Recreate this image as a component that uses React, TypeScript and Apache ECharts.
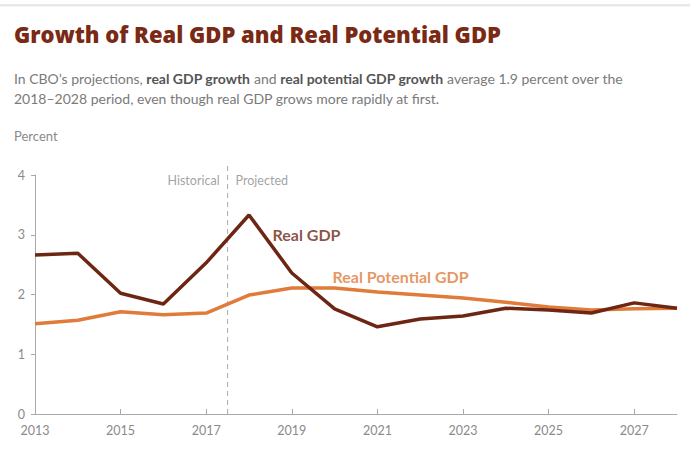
import React, { useEffect, useRef } from "react";
import * as echarts from "echarts";

const years = ["2013","2014","2015","2016","2017","2018","2019","2020","2021","2022","2023","2024","2025","2026","2027","2028"];
const realGdp = [2.66, 2.69, 2.02, 1.84, 2.53, 3.33, 2.36, 1.76, 1.46, 1.59, 1.64, 1.77, 1.74, 1.69, 1.86, 1.77];
const potentialGdp = [1.51, 1.57, 1.71, 1.66, 1.69, 1.99, 2.11, 2.11, 2.04, 1.99, 1.94, 1.87, 1.79, 1.74, 1.76, 1.77];
const dividerYear = 4.5; // index between 2017 and 2018
const yTicks = [0, 1, 2, 3, 4];

const FONT = "Lato";
const GRAY = "#8a8a8a";
const DARK = "#6e2614";
const ORANGE = "#e07b39";

export default function App() {
  const ref = useRef<HTMLDivElement>(null);
  useEffect(() => {
    if (!ref.current) return;
    const chart = echarts.init(ref.current, undefined, { renderer: "svg" });
    chart.setOption({
      animation: false,
      backgroundColor: "#fff",
      textStyle: { fontFamily: FONT },
      title: [
        {
          text: "Growth of Real GDP and Real Potential GDP",
          left: 9,
          top: 18,
          textStyle: { fontFamily: "Open Sans", fontWeight: 800, fontSize: 22, color: "#7a2914" },
        },
        {
          text:
            "In CBO’s projections, {b|real GDP growth} and {b|real potential GDP growth} average 1.9 percent over the\n2018–2028 period, even though real GDP grows more rapidly at first.",
          left: 9,
          top: 63,
          textStyle: {
            fontFamily: FONT,
            fontWeight: "normal",
            fontSize: 14,
            lineHeight: 20,
            color: "#7a7a7a",
            rich: { b: { fontFamily: FONT, fontWeight: "bold", fontSize: 14, color: "#555" } },
          },
        },
        {
          text: "Percent",
          left: 9,
          top: 124,
          textStyle: { fontFamily: FONT, fontWeight: "normal", fontSize: 13, color: GRAY },
        },
      ],
      graphic: [
        { type: "rect", shape: { x: 0, y: 4, width: 690, height: 2.5 }, style: { fill: "#e8e8e8" } },
      ],
      grid: { left: 35, right: 13, top: 175, bottom: 43, containLabel: false },
      xAxis: [
        {
          type: "category",
          data: years,
          boundaryGap: false,
          axisLine: { lineStyle: { color: "#aaa", width: 1 } },
          axisTick: { inside: true, interval: 1, length: 5, lineStyle: { color: "#aaa" }, alignWithLabel: true },
          axisLabel: { interval: 1, color: GRAY, fontSize: 12.5, fontFamily: FONT, margin: 10 },
          splitLine: { show: false },
        },
        {
          type: "value",
          min: 0,
          max: years.length - 1,
          show: false,
        },
      ],
      yAxis: {
        type: "value",
        min: yTicks[0],
        max: yTicks[yTicks.length - 1],
        interval: 1,
        axisLine: { show: true, lineStyle: { color: "#aaa", width: 1 } },
        axisTick: { show: true, length: 4, lineStyle: { color: "#aaa" } },
        axisLabel: { color: GRAY, fontSize: 12.5, fontFamily: FONT, margin: 10 },
        splitLine: { show: false },
      },
      series: [
        {
          type: "line",
          xAxisIndex: 1,
          data: [[dividerYear, 0], [dividerYear, 4.15]],
          clip: false,
          symbol: "none",
          silent: true,
          lineStyle: { color: "#aaa", width: 1, type: [5, 4] },
          z: 1,
        },
        {
          type: "line",
          name: "Real Potential GDP",
          data: potentialGdp,
          symbol: "none",
          lineStyle: { color: ORANGE, width: 3.5 },
          z: 2,
        },
        {
          type: "line",
          name: "Real GDP",
          data: realGdp,
          symbol: "none",
          lineStyle: { color: DARK, width: 3.5 },
          z: 3,
        },
        {
          type: "scatter",
          xAxisIndex: 1,
          symbolSize: 0,
          silent: true,
          clip: false,
          data: [
            { value: [dividerYear, 3.9], label: { show: true, position: "left", formatter: "Historical", distance: 8, color: GRAY, fontSize: 12.5, fontFamily: FONT } },
            { value: [dividerYear, 3.9], label: { show: true, position: "right", formatter: "Projected", distance: 8, color: GRAY, fontSize: 12.5, fontFamily: FONT } },
            { value: [5.55, 3.0], label: { show: true, position: "right", formatter: "Real GDP", distance: 0, color: DARK, fontSize: 16, fontWeight: "bold", fontFamily: FONT } },
            { value: [6.95, 2.3], label: { show: true, position: "right", formatter: "Real Potential GDP", distance: 0, color: ORANGE, fontSize: 16, fontWeight: "bold", fontFamily: FONT } },
          ],
        },
      ],
    });
    return () => chart.dispose();
  }, []);
  return <div ref={ref} style={{ position: "absolute", left: 0, top: 0, width: 690, height: 457 }} />;
}
